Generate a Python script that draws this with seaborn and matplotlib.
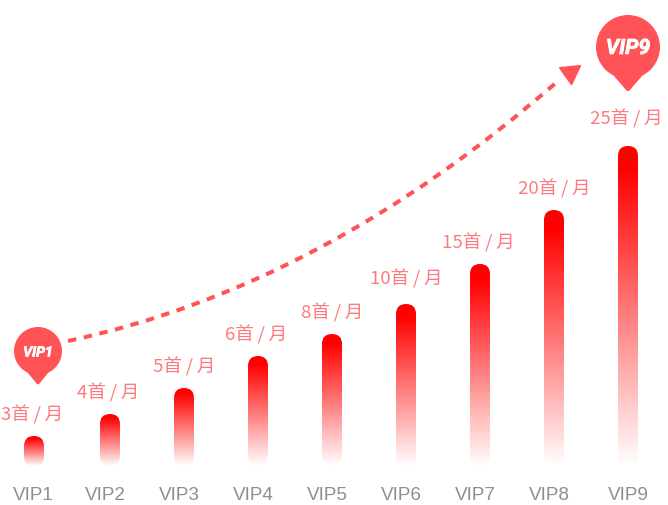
import numpy as np
import pandas as pd
import matplotlib
matplotlib.use("Agg")
import matplotlib.pyplot as plt
import seaborn as sns
import matplotlib.patheffects as pe
from matplotlib.colors import LinearSegmentedColormap
from matplotlib.patches import FancyBboxPatch, PathPatch, Circle, Polygon
from matplotlib.path import Path

levels = ["VIP1", "VIP2", "VIP3", "VIP4", "VIP5", "VIP6", "VIP7", "VIP8", "VIP9"]
bar_heights = [30, 52, 78, 110, 132, 162, 202, 256, 320]
rates = ["3", "4", "5", "6", "8", "10", "15", "20", "25"]

# layout of the original graphic (pixels)
bar_x = [34, 110, 184, 258, 332, 406, 480, 554, 628]
tick_x = [33, 105, 179, 253, 327, 401, 475, 549, 628]
label_x = [32, 108, 184, 256, 332, 406, 478, 554, 626]
label_gap = [22, 22, 22, 22, 22, 26, 22, 22, 28]

W, H = 668, 506
BASE = 467
sns.set_theme(style="white")
plt.rcParams["font.family"] = ["Noto Sans CJK SC", "DejaVu Sans"]

fig = plt.figure(figsize=(W / 100, H / 100), dpi=100)
ax = fig.add_axes([0, 0, 1, 1])
df = pd.DataFrame({"x": bar_x, "h": bar_heights})
sns.barplot(data=df, x="x", y="h", ax=ax, native_scale=True, width=20 / 74, color="red", zorder=1)
ax.set_xlim(0, W)
ax.set_ylim(BASE - H, BASE)
ax.axis("off")

def py(y):
    return BASE - y

cmap = LinearSegmentedColormap.from_list("fade", [(0, "#ffffff"), (0.06, "#ffeeee"), (0.93, "#ff0000"), (1, "#ff0000")])
grad = np.linspace(1, 0, 256).reshape(-1, 1)
bars = sorted(ax.patches, key=lambda p: p.get_x())
for p, rate, lx, gap in zip(bars, rates, label_x, label_gap):
    x, w, h = p.get_x(), p.get_width(), p.get_height()
    p.set_visible(False)
    clip = FancyBboxPatch((x, 0), w, h, boxstyle=f"round,pad=0,rounding_size={w/2}",
                          fc="none", ec="none", transform=ax.transData)
    ax.add_patch(clip)
    im = ax.imshow(grad, cmap=cmap, vmin=0, vmax=1, extent=(x, x + w, 0, h), aspect="auto", zorder=2)
    im.set_clip_path(clip)
    ax.text(lx, h + gap, f"{rate}首\u2009/\u2009月", ha="center", va="center",
            fontsize=13.4, color="#ff7a7e")
for tx, lv in zip(tick_x, levels):
    ax.text(tx, py(496), lv, ha="center", va="center", fontsize=13.6, color="#8f8f8f",
            family=["Liberation Sans"])
ax.set_xlim(0, W)
ax.set_ylim(BASE - H, BASE)

PIN = "#ff5357"
def pin(cx, cy, r, tip, label, fs, lw):
    ax.add_patch(Circle((cx, py(cy)), r, fc=PIN, ec="none", zorder=4))
    half = r * 0.36
    ax.add_patch(Polygon([(cx - half, py(cy + r * 0.9)), (cx + half, py(cy + r * 0.9)), (cx, py(tip - lw))],
                         closed=True, fc=PIN, ec=PIN, lw=lw, joinstyle="round", zorder=4))
    ax.text(cx, py(cy + 1.5), label, ha="center", va="center", color="white", fontsize=fs,
            fontweight="bold", style="italic", family=["Roboto"], zorder=5,
            path_effects=[pe.withStroke(linewidth=0.5, foreground="white")])

pin(38, 352, 24, 386, "VIP1", 10.2, 2)
pin(628, 48, 32, 93, "VIP9", 15.2, 3)

curve_x = [68, 322, 558]
curve_y = [342, 288, 82]
verts = [(a, py(b)) for a, b in zip(curve_x, curve_y)]
ax.add_patch(PathPatch(Path(verts, [Path.MOVETO, Path.CURVE3, Path.CURVE3]), fc="none", ec=PIN,
                       lw=2.9, ls=(0, (2.1, 1.9)), capstyle="butt", zorder=3))
arrow_x = [560, 580, 571.5]
arrow_y = [69, 67, 85]
ax.add_patch(Polygon([(a, py(b)) for a, b in zip(arrow_x, arrow_y)], closed=True, fc=PIN, ec=PIN, lw=1.5,
                     joinstyle="round", zorder=3))
fig.savefig("out.png", dpi=100)
